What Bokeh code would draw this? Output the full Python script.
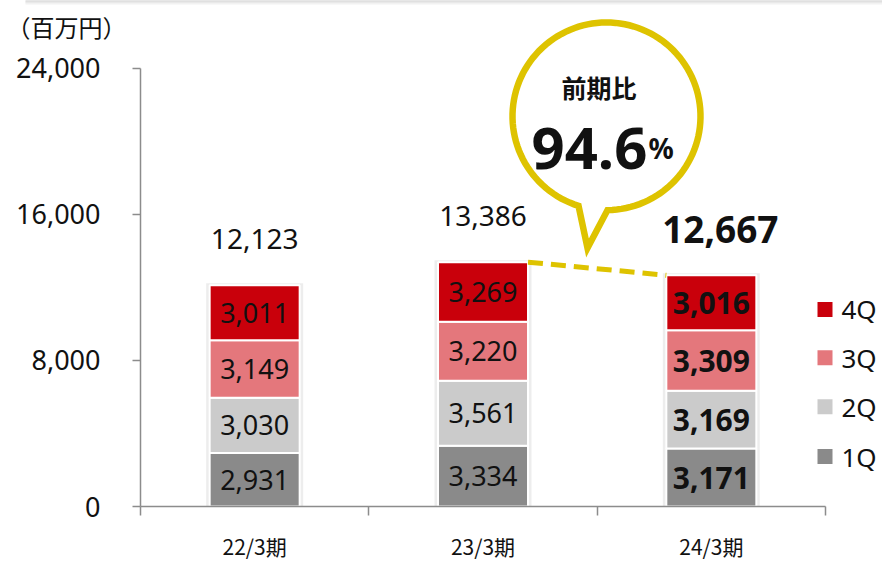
import math
from bokeh.plotting import figure
from bokeh.models import Range1d, FixedTicker, NumeralTickFormatter, ColumnDataSource
from bokeh.core.properties import value
from bokeh.embed import file_html
from bokeh.resources import INLINE

# ---------------- data ----------------
categories = ["22/3期", "23/3期", "24/3期"]
q1 = [2931, 3334, 3171]
q2 = [3030, 3561, 3169]
q3 = [3149, 3220, 3309]
q4 = [3011, 3269, 3016]
totals = [12123, 13386, 12667]
series_names = ["1Q", "2Q", "3Q", "4Q"]
y_ticks = [0, 8000, 16000, 24000]
yoy_title = "前期比"
yoy_value = "94.6"
yoy_unit = "%"
unit_label = "（百万円）"

colors = ["#8A8A8A", "#CBCBCB", "#E4777C", "#C9000B"]
YELLOW = "#DEC300"
TXT = "#111111"
NUM_FONT = "Noto Sans"
JP_FONT = "Noto Sans CJK JP"

# ---------------- layout helpers ----------------
W, H = 882, 563
FL, FB = 140, 56
FRAME_W = W - FL
FRAME_H = H - FB
PPX = 685 / 3.0          # px per category unit
PPY = 439 / 24000.0      # px per value unit


def dx(px):
    return px / PPX


def dy(px):
    return px / PPY


def X(ix):  # canvas x -> data x
    return (ix - FL) / PPX


def Y(iy):  # canvas y -> data y
    return (FRAME_H - iy) / PPY


p = figure(width=W, height=H,
           x_range=Range1d(0, FRAME_W / PPX), y_range=Range1d(0, FRAME_H / PPY),
           output_backend="svg", toolbar_location=None,
           min_border_left=FL, min_border_right=0, min_border_top=0, min_border_bottom=FB)
p.outline_line_color = None
p.xgrid.visible = False
p.ygrid.visible = False
p.background_fill_color = "white"
p.border_fill_color = "white"

# faint header shadow at the very top
shade = ["#cfcfcf", "#dadada", "#e6e6e6", "#f2f2f2"]
p.quad(left=[X(25)] * 4, right=[X(882)] * 4,
       top=[Y(i) for i in range(4)], bottom=[Y(i + 1) for i in range(4)],
       fill_color=shade, line_color=None, level="overlay")

xs = [i + 0.5 for i in range(len(categories))]
BAR_W = dx(90)

# soft shadow behind bars
sums = [a + b + c + d for a, b, c, d in zip(q1, q2, q3, q4)]
p.vbar(x=xs, top=[s + dy(2) for s in sums], bottom=0, width=dx(97),
       fill_color="#000000", fill_alpha=0.07, line_color=None)

src = ColumnDataSource(dict(x=xs, q1=q1, q2=q2, q3=q3, q4=q4))
p.vbar_stack(["q1", "q2", "q3", "q4"], x="x", width=BAR_W, color=colors,
             line_color="white", line_width=2, source=src)

# segment labels
series = [q1, q2, q3, q4]
bottoms = [0, 0, 0]
for s in series:
    centers = [b + v / 2 for b, v in zip(bottoms, s)]
    texts = [f"{v:,}" for v in s]
    p.text(x=xs[:2], y=centers[:2], text=texts[:2], text_align="center", text_baseline="middle",
           text_font=value(NUM_FONT), text_font_size="27px", text_color=TXT)
    p.text(x=xs[2:], y=centers[2:], text=texts[2:], text_align="center", text_baseline="middle",
           text_font=value(NUM_FONT), text_font_size="30px", text_font_style="bold", text_color=TXT)
    bottoms = [b + v for b, v in zip(bottoms, s)]

# totals
tot_y = [t + dy(46) for t in totals]
p.text(x=xs[:2], y=tot_y[:2], text=[f"{t:,}" for t in totals[:2]], text_align="center",
       text_baseline="middle", text_font=value(NUM_FONT), text_font_size="28px", text_color=TXT)
p.text(x=xs[2:], y=tot_y[2:], text=[f"{t:,}" for t in totals[2:]], text_align="center",
       text_baseline="middle", text_font=value(NUM_FONT), text_font_size="37px",
       text_font_style="bold", text_color=TXT, x_offset=9)

# dashed connector between bar 2 and bar 3 tops
p.line(x=[xs[1] + BAR_W / 2, xs[2] - BAR_W / 2], y=[sums[1], sums[2]],
       line_color=YELLOW, line_width=5, line_dash="15 8")

# speech bubble
cx, cy, R = 606, 116, 94
lb = (577, 209)
rb = (607, 209)
tip = (587, 248)
a0 = math.atan2(lb[1] - cy, lb[0] - cx)
a1 = math.atan2(rb[1] - cy, rb[0] - cx) + 2 * math.pi
n = 120
bx, by = [], []
for k in range(n + 1):
    a = a0 + (a1 - a0) * k / n
    bx.append(X(cx + R * math.cos(a)))
    by.append(Y(cy + R * math.sin(a)))
bx.append(X(tip[0]))
by.append(Y(tip[1]))
p.patch(bx, by, fill_color="white", line_color=YELLOW, line_width=6.5, line_join="miter")

p.text(x=[X(598.5)], y=[Y(87)], text=[yoy_title], text_align="center", text_baseline="middle",
       text_font=value(JP_FONT), text_font_size="25px", text_font_style="bold", text_color=TXT)
p.text(x=[X(531)], y=[Y(148)], text=[yoy_value], text_align="left", text_baseline="alphabetic",
       text_font=value(NUM_FONT), text_font_size="58px", text_font_style="bold", text_color=TXT)
p.text(x=[X(648)], y=[Y(148)], text=[yoy_unit], text_align="left", text_baseline="alphabetic",
       text_font=value(NUM_FONT), text_font_size="28px", text_font_style="bold", text_color=TXT)

# legend (manual)
leg_y = [Y(457), Y(407), Y(358), Y(309.5)]
p.scatter(x=[X(824.5)] * 4, y=leg_y, marker="square", size=15, fill_color=colors, line_color=None)
p.text(x=[X(841)] * 4, y=leg_y, text=series_names, text_align="left", text_baseline="middle",
       text_font=value(NUM_FONT), text_font_size="26px", text_color=TXT)

# unit label, drawn on the overlay level so it may sit left of the frame
p.text(x=[X(6)], y=[Y(26)], text=[unit_label], text_align="left", text_baseline="middle",
       text_font=value(JP_FONT), text_font_size="24px", text_color=TXT, level="overlay")

# axes
yax = p.yaxis[0]
yax.ticker = FixedTicker(ticks=y_ticks)
yax.formatter = NumeralTickFormatter(format="0,0")
yax.bounds = (0, 24000)
yax.axis_line_color = "#8C8C8C"
yax.axis_line_width = 1.5
yax.major_tick_line_color = "#8C8C8C"
yax.major_tick_line_width = 1.5
yax.major_tick_out = 8
yax.major_tick_in = 0
yax.minor_tick_line_color = None
yax.major_label_standoff = 32
yax.major_label_text_font = NUM_FONT
yax.major_label_text_font_size = "27px"
yax.major_label_text_color = TXT

xax = p.xaxis[0]
xax.ticker = FixedTicker(ticks=xs, minor_ticks=list(range(len(categories) + 1)))
xax.major_label_overrides = {x: c for x, c in zip(xs, categories)}
xax.bounds = (0, len(categories))
xax.axis_line_color = "#8C8C8C"
xax.axis_line_width = 1.5
xax.major_tick_line_color = None
xax.major_tick_out = 0
xax.major_tick_in = 0
xax.minor_tick_line_color = "#8C8C8C"
xax.minor_tick_line_width = 1.5
xax.minor_tick_out = 9
xax.minor_tick_in = 0
xax.major_label_standoff = 15
xax.major_label_text_font = JP_FONT
xax.major_label_text_font_size = "21px"
xax.major_label_text_color = TXT

open("out.html", "w").write(file_html(p, INLINE))
